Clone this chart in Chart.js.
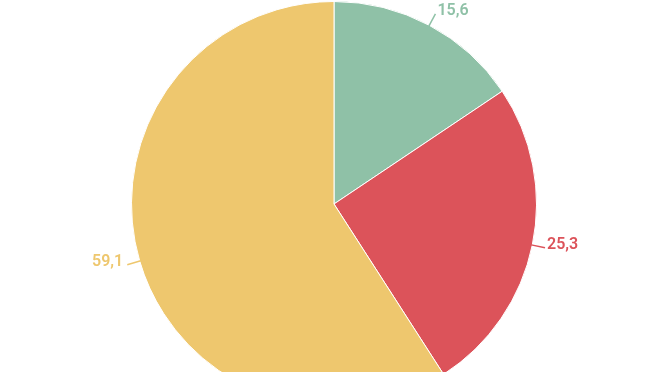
<!DOCTYPE html>
<html>
<head>
<meta charset="utf-8">
<script src="https://cdn.jsdelivr.net/npm/chart.js@4/dist/chart.umd.min.js"></script>
<style>
html,body{margin:0;padding:0;background:#fff;overflow:hidden;width:672px;height:372px;}
#wrap{position:absolute;left:0;top:0;width:672px;height:408px;}
</style>
</head>
<body>
<div id="wrap"><canvas id="c" width="672" height="408"></canvas></div>
<script>
const categories = ["A", "B", "C"];
const values = [15.6, 25.3, 59.1];
const labelsText = ["15,6", "25,3", "59,1"];
const colors = ["#8fc1a7", "#dc535a", "#eec76e"];

const leaderPlugin = {
  id: 'leader',
  afterDatasetsDraw(chart) {
    const ctx = chart.ctx;
    const meta = chart.getDatasetMeta(0);
    meta.data.forEach((arc, i) => {
      const p = arc.getProps(['x','y','startAngle','endAngle','outerRadius'], true);
      const mid = (p.startAngle + p.endAngle) / 2;
      const c = Math.cos(mid), s = Math.sin(mid);
      const x1 = p.x + c * (p.outerRadius - 1), y1 = p.y + s * (p.outerRadius - 1);
      const x2 = p.x + c * (p.outerRadius + 13), y2 = p.y + s * (p.outerRadius + 13);
      ctx.save();
      ctx.strokeStyle = colors[i];
      ctx.lineWidth = 1.5;
      ctx.beginPath();
      ctx.moveTo(x1, y1);
      ctx.lineTo(x2, y2);
      ctx.stroke();
      ctx.fillStyle = colors[i];
      ctx.font = '600 16px Roboto';
      ctx.textBaseline = 'alphabetic';
      if (c >= 0) { ctx.textAlign = 'left'; ctx.fillText(labelsText[i], x2 + 2, y2 + 1); }
      else { ctx.textAlign = 'right'; ctx.fillText(labelsText[i], x2 - 4, y2 + 1); }
      ctx.restore();
    });
  }
};

new Chart(document.getElementById('c'), {
  type: 'pie',
  data: {
    labels: categories,
    datasets: [{
      data: values,
      backgroundColor: colors,
      borderColor: '#ffffff',
      borderWidth: 1
    }]
  },
  options: {
    responsive: false,
    animation: false,
    devicePixelRatio: 1,
    layout: { padding: { top: 1, bottom: 1, left: 0, right: 4 } },
    plugins: { legend: { display: false }, tooltip: { enabled: false } }
  },
  plugins: [leaderPlugin]
});
</script>
</body>
</html>
